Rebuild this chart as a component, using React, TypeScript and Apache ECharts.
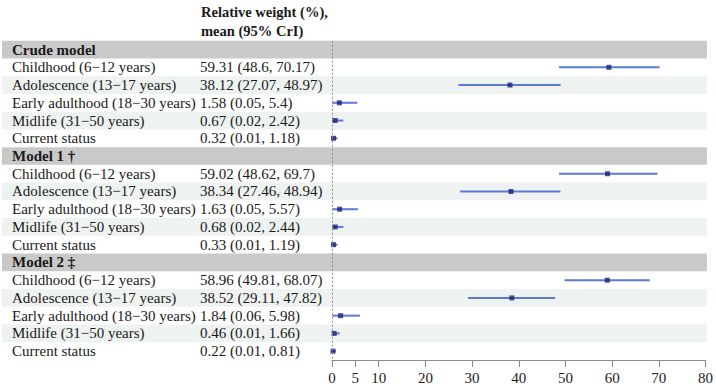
import React, { useEffect, useRef } from "react";
import * as echarts from "echarts";

const groups = ["Crude model", "Model 1 †", "Model 2 ‡"];
const periods = [
  "Childhood (6−12 years)",
  "Adolescence (13−17 years)",
  "Early adulthood (18−30 years)",
  "Midlife (31−50 years)",
  "Current status",
];
const means = [
  [59.31, 38.12, 1.58, 0.67, 0.32],
  [59.02, 38.34, 1.63, 0.68, 0.33],
  [58.96, 38.52, 1.84, 0.46, 0.22],
];
const lowers = [
  [48.6, 27.07, 0.05, 0.02, 0.01],
  [48.62, 27.46, 0.05, 0.02, 0.01],
  [49.81, 29.11, 0.06, 0.01, 0.01],
];
const uppers = [
  [70.17, 48.97, 5.4, 2.42, 1.18],
  [69.7, 48.94, 5.57, 2.44, 1.19],
  [68.07, 47.82, 5.98, 1.66, 0.81],
];
const tickValues = [0, 5, 10, 20, 30, 40, 50, 60, 70, 80];
const headerLines = ["Relative weight (%),", "mean (95% CrI)"];

const FONT = "'Liberation Serif', 'DejaVu Serif', serif";

type Row = { label: string; value: string; kind: "header" | "stripe" | "plain" };

const rows: Row[] = [];
const points: number[][] = [];
groups.forEach((g, gi) => {
  rows.push({ label: g, value: "", kind: "header" });
  periods.forEach((p, pi) => {
    const idx = rows.length;
    rows.push({
      label: p,
      value: `${means[gi][pi]} (${lowers[gi][pi]}, ${uppers[gi][pi]})`,
      kind: pi % 2 === 1 ? "stripe" : "plain",
    });
    points.push([means[gi][pi], lowers[gi][pi], uppers[gi][pi], idx]);
  });
});

export default function App() {
  const ref = useRef<HTMLDivElement>(null);
  useEffect(() => {
    if (!ref.current) return;
    const chart = echarts.init(ref.current, null, { renderer: "svg" });
    chart.setOption({
      animation: false,
      grid: { left: 332, right: 10, top: 40.7, bottom: 27, containLabel: false },
      xAxis: {
        type: "value",
        min: 0,
        max: 80,
        splitLine: { show: false },
        axisLine: { show: true, lineStyle: { color: "#8a8a8a", width: 1 } },
        axisTick: {
          show: true,
          length: 7,
          customValues: tickValues,
          lineStyle: { color: "#8a8a8a", width: 1 },
        },
        axisLabel: {
          customValues: tickValues,
          fontFamily: FONT,
          fontSize: 15,
          color: "#222",
          margin: 10,
        },
      },
      yAxis: {
        type: "category",
        data: rows.map((_, i) => String(i)),
        inverse: true,
        show: false,
      },
      graphic: headerLines.map((t, i) => ({
        type: "text",
        left: 201,
        top: 4 + i * 19,
        style: { text: t, font: `bold 14.5px ${FONT}`, fill: "#1a1a1a" },
      })),
      series: [
        {
          type: "custom",
          z: 1,
          clip: false,
          data: rows.map((_, i) => [0, i]),
          encode: { x: 0, y: 1 },
          renderItem: (params: any, api: any) => {
            const i = api.value(1);
            const r = rows[i];
            const c = api.coord([0, i]);
            const h = api.size([0, 1])[1];
            const children: any[] = [];
            if (r.kind !== "plain") {
              children.push({
                type: "rect",
                shape: { x: 2, y: c[1] - h / 2, width: 705, height: h },
                style: { fill: r.kind === "header" ? "#c9c9c9" : "#eef2f0" },
              });
            }
            children.push({
              type: "text",
              x: 12,
              y: c[1],
              style: {
                text: r.label,
                font: `${r.kind === "header" ? "bold " : ""}15px ${FONT}`,
                fill: "#1a1a1a",
                verticalAlign: "middle",
              },
            });
            if (r.value) {
              children.push({
                type: "text",
                x: 200,
                y: c[1],
                style: {
                  text: r.value,
                  font: `15px ${FONT}`,
                  fill: "#1a1a1a",
                  verticalAlign: "middle",
                },
              });
            }
            return { type: "group", children };
          },
        },
        {
          type: "custom",
          z: 3,
          data: points,
          encode: { x: [0, 1, 2], y: 3 },
          renderItem: (params: any, api: any) => {
            const y = api.value(3);
            const lo = api.coord([api.value(1), y]);
            const hi = api.coord([api.value(2), y]);
            return {
              type: "line",
              shape: { x1: lo[0], y1: lo[1], x2: hi[0], y2: hi[1] },
              style: { stroke: "#5a7ad6", lineWidth: 2 },
            };
          },
        },
        {
          type: "scatter",
          z: 4,
          symbol: "rect",
          symbolSize: 5,
          itemStyle: { color: "#1b1f7a" },
          data: points.map((p) => [p[0], p[3]]),
          markLine: {
            silent: true,
            symbol: "none",
            label: { show: false },
            lineStyle: { color: "#8a8a8a", type: [2, 2], width: 1 },
            data: [{ xAxis: 0 }],
          },
        },
      ],
    });
    return () => chart.dispose();
  }, []);
  return (
    <div
      ref={ref}
      style={{ position: "absolute", left: 0, top: 0, width: 716, height: 387 }}
    />
  );
}
